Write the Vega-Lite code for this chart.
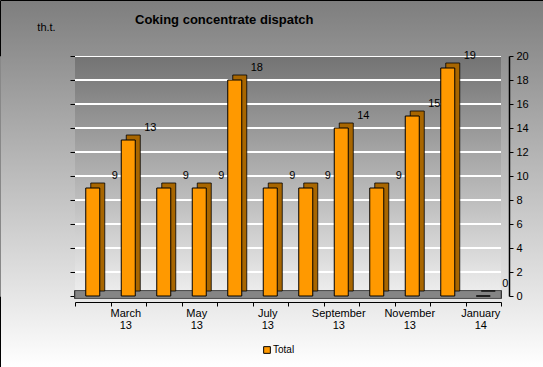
{
  "$schema": "https://vega.github.io/schema/vega-lite/v6.json",
  "width": 543,
  "height": 367,
  "autosize": {"type": "none"},
  "padding": 0,
  "title": {
    "text": "Coking concentrate  dispatch",
    "anchor": "start",
    "frame": "group",
    "dx": 135,
    "offset": -27,
    "fontSize": 13,
    "fontWeight": "bold",
    "font": "Liberation Sans",
    "color": "#000000"
  },
  "data": {
    "values": [
      {"month": "February 13", "v": 9, "series": "Total"},
      {"month": "March 13", "v": 13, "series": "Total"},
      {"month": "April 13", "v": 9, "series": "Total"},
      {"month": "May 13", "v": 9, "series": "Total"},
      {"month": "June 13", "v": 18, "series": "Total"},
      {"month": "July 13", "v": 9, "series": "Total"},
      {"month": "August 13", "v": 9, "series": "Total"},
      {"month": "September 13", "v": 14, "series": "Total"},
      {"month": "October 13", "v": 9, "series": "Total"},
      {"month": "November 13", "v": 15, "series": "Total"},
      {"month": "December 13", "v": 19, "series": "Total"},
      {"month": "January 14", "v": 0, "series": "Total"}
    ]
  },
  "layer": [
    {
      "mark": {
        "type": "rect",
        "color": {
          "gradient": "linear",
          "x1": 0, "y1": 0, "x2": 0, "y2": 1,
          "stops": [
            {"offset": 0, "color": "#ffffff"},
            {"offset": 0.006, "color": "#ffffff"},
            {"offset": 0.006, "color": "#747474"},
            {"offset": 0.097, "color": "#7f7f7f"},
            {"offset": 0.097, "color": "#ffffff"},
            {"offset": 0.103, "color": "#ffffff"},
            {"offset": 0.103, "color": "#7f7f7f"},
            {"offset": 0.197, "color": "#8c8c8c"},
            {"offset": 0.197, "color": "#ffffff"},
            {"offset": 0.203, "color": "#ffffff"},
            {"offset": 0.203, "color": "#8c8c8c"},
            {"offset": 0.297, "color": "#989898"},
            {"offset": 0.297, "color": "#ffffff"},
            {"offset": 0.303, "color": "#ffffff"},
            {"offset": 0.303, "color": "#989898"},
            {"offset": 0.397, "color": "#a5a5a5"},
            {"offset": 0.397, "color": "#ffffff"},
            {"offset": 0.403, "color": "#ffffff"},
            {"offset": 0.403, "color": "#a5a5a5"},
            {"offset": 0.497, "color": "#b1b1b1"},
            {"offset": 0.497, "color": "#ffffff"},
            {"offset": 0.503, "color": "#ffffff"},
            {"offset": 0.503, "color": "#b1b1b1"},
            {"offset": 0.597, "color": "#bdbdbd"},
            {"offset": 0.597, "color": "#ffffff"},
            {"offset": 0.603, "color": "#ffffff"},
            {"offset": 0.603, "color": "#bdbdbd"},
            {"offset": 0.697, "color": "#cacaca"},
            {"offset": 0.697, "color": "#ffffff"},
            {"offset": 0.703, "color": "#ffffff"},
            {"offset": 0.703, "color": "#cacaca"},
            {"offset": 0.797, "color": "#d6d6d6"},
            {"offset": 0.797, "color": "#ffffff"},
            {"offset": 0.803, "color": "#ffffff"},
            {"offset": 0.803, "color": "#d6d6d6"},
            {"offset": 0.897, "color": "#e3e3e3"},
            {"offset": 0.897, "color": "#ffffff"},
            {"offset": 0.903, "color": "#ffffff"},
            {"offset": 0.903, "color": "#e3e3e3"},
            {"offset": 1, "color": "#efefef"}
          ]
        }
      },
      "encoding": {
        "x": {"datum": "February 13", "bandPosition": 0},
        "x2": {"datum": "January 14", "bandPosition": 1},
        "y": {"datum": 20},
        "y2": {"datum": 0}
      }
    },
    {
      "mark": {"type": "rect", "color": "#858585", "stroke": "#333333", "strokeWidth": 0.5},
      "encoding": {
        "x": {"datum": "February 13", "bandPosition": 0},
        "x2": {"datum": "January 14", "bandPosition": 1},
        "y": {"datum": 0.45},
        "y2": {"datum": -0.2}
      }
    },
    {
      "mark": {"type": "bar", "size": 14, "xOffset": 5, "yOffset": -5, "color": "#A86600", "stroke": "#000000", "strokeWidth": 0.8},
      "encoding": {
        "x": {
          "field": "month",
          "type": "nominal",
          "sort": null,
          "scale": {
            "domain": ["February 13", "March 13", "April 13", "May 13", "June 13", "July 13", "August 13", "September 13", "October 13", "November 13", "December 13", "January 14"],
            "paddingInner": 0, "paddingOuter": 0, "range": [75, 501]
          },
          "axis": {
            "title": null,
            "orient": "bottom",
            "labelAngle": 0,
            "labelAlign": "center",
            "offset": -65,
            "tickBand": "extent",
            "tickSize": 4,
            "tickColor": "#000000",
            "domainColor": "#000000",
            "labelColor": "#000000",
            "labelFont": "Liberation Sans",
            "labelFontSize": 11,
            "labelLineHeight": 12,
            "labelOffset": -3,
            "labelPadding": 7,
            "labelExpr": "indexof(['March 13','May 13','July 13','September 13','November 13','January 14'], datum.value) >= 0 ? split(datum.value, ' ') : ''"
          }
        },
        "y": {
          "field": "v",
          "type": "quantitative",
          "scale": {"domain": [0, 20], "nice": false, "range": [296, 56]},
          "axis": {
            "orient": "right",
            "title": null,
            "values": [0, 2, 4, 6, 8, 10, 12, 14, 16, 18, 20],
            "offset": -34,
            "grid": false,
            "tickSize": 4,
            "tickColor": "#000000",
            "domainColor": "#000000",
            "domainWidth": 1.5,
            "labelColor": "#000000",
            "labelFont": "Liberation Sans",
            "labelFontSize": 11,
            "labelPadding": 3
          }
        }
      }
    },
    {
      "mark": {"type": "bar", "size": 14, "stroke": "#000000", "strokeWidth": 1},
      "encoding": {
        "x": {"field": "month", "type": "nominal", "sort": null},
        "y": {
          "field": "v",
          "type": "quantitative",
          "axis": {
            "orient": "left",
            "offset": -75,
            "labels": false,
            "grid": false,
            "values": [0, 2, 4, 6, 8, 10, 12, 14, 16, 18, 20],
            "tickSize": 5,
            "tickColor": "#000000",
            "domainColor": "#000000",
            "title": "th.t.",
            "titleAngle": 0,
            "titleX": -29,
            "titleY": 27,
            "titleAlign": "center",
            "titleBaseline": "middle",
            "titleFont": "Liberation Sans",
            "titleFontSize": 11,
            "titleFontWeight": "normal",
            "titleColor": "#000000"
          }
        },
        "color": {
          "field": "series",
          "type": "nominal",
          "scale": {"domain": ["Total"], "range": ["#FF9900"]},
          "legend": {
            "title": null,
            "orient": "none",
            "legendX": 262,
            "legendY": 345,
            "symbolType": "square",
            "symbolSize": 45,
            "symbolStrokeColor": "#000000",
            "symbolStrokeWidth": 1,
            "labelFont": "Liberation Sans",
            "labelFontSize": 10,
            "labelColor": "#000000",
            "labelOffset": 1
          }
        }
      }
    },
    {
      "mark": {"type": "text", "dx": 22, "dy": -12, "font": "Liberation Sans", "fontSize": 11, "color": "#000000"},
      "encoding": {
        "x": {"field": "month", "type": "nominal", "sort": null},
        "y": {"field": "v", "type": "quantitative", "axis": null},
        "text": {"field": "v", "type": "quantitative"}
      }
    }
  ],
  "resolve": {"axis": {"y": "independent"}},
  "config": {
    "view": {
      "stroke": "#000000",
      "strokeWidth": 1,
      "fill": {
        "gradient": "linear",
        "x1": 0, "y1": 0, "x2": 0, "y2": 1,
        "stops": [
          {"offset": 0, "color": "#7e7e7e"},
          {"offset": 1, "color": "#ffffff"}
        ]
      }
    }
  }
}
